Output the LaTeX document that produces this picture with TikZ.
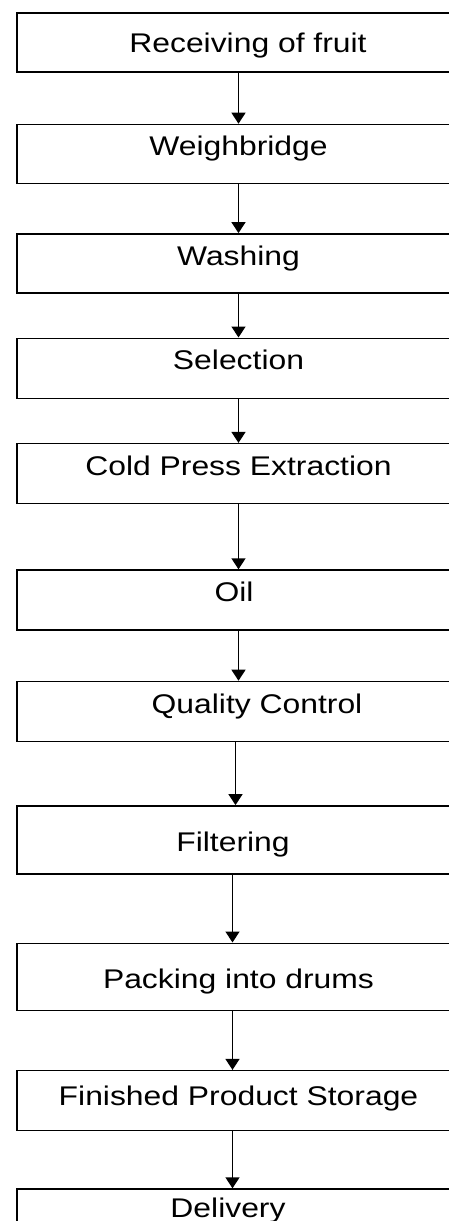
\documentclass[tikz,border=0pt]{standalone}
\usepackage{fontspec}
\setmainfont{Liberation Sans}[FakeStretch=1.18]
\usetikzlibrary{positioning, arrows.meta}

\tikzset{
	stepbox/.style={draw, line width=0.7pt, minimum width=221.5pt, minimum height=30pt,
		inner sep=0pt, text height=9.7pt, text depth=8pt,
		font=\fontsize{13.5}{16}\selectfont, execute at begin node={\hspace*{#1}}},
	stepbox/.default=0pt,
	flow/.style={line width=0.7pt, -{Triangle[width=7pt,length=5.5pt]}}
}

\begin{document}
\begin{tikzpicture}[x=0.5pt, y=-0.5pt]
		\clip (0,0) rectangle (449,1221);
		\node[stepbox=9.5pt, minimum height=29.5pt, text depth=0pt] (recv) at (238.5,42.5) {Receiving of fruit};
		\node[stepbox, minimum height=29.5pt, below=25.5pt of recv] (weigh) {Weighbridge};
		\node[stepbox, minimum height=29.5pt, below=24.5pt of weigh] (wash) {Washing};
		\node[stepbox, below=22pt of wash] (select) {Selection};
		\node[stepbox, below=22pt of select] (press) {Cold Press Extraction};
		\node[stepbox=-4.5pt, below=32.5pt of press] (oil) {Oil};
		\node[stepbox=18.5pt, below=25pt of oil] (quality) {Quality Control};
		\node[stepbox=-5.5pt, minimum height=34pt, text height=11.7pt, text depth=0pt, below=31.5pt of quality] (filter) {Filtering};
		\node[stepbox, minimum height=33.5pt, text height=11.7pt, text depth=0pt, below=34pt of filter] (pack) {Packing into drums};
		\node[stepbox, text depth=5pt, below=29.5pt of pack] (store) {Finished Product Storage};
		\node[stepbox=-10.5pt, text depth=11.5pt, below=28.5pt of store] (deliver) {Delivery};
	
		\draw[flow] (recv) -- (weigh);
		\draw[flow] (weigh) -- (wash);
		\draw[flow] (wash) -- (select);
		\draw[flow] (select) -- (press);
		\draw[flow] (press) -- (oil);
		\draw[flow] (oil) -- (quality);
		\draw[flow] ([xshift=-1.5pt]quality.south) -- ([xshift=-1.5pt]filter.north);
		\draw[flow] ([xshift=-3pt]filter.south) -- ([xshift=-3pt]pack.north);
		\draw[flow] ([xshift=-3pt]pack.south) -- ([xshift=-3pt]store.north);
		\draw[flow] ([xshift=-3pt]store.south) -- ([xshift=-3pt]deliver.north);
	\end{tikzpicture}
\end{document}
